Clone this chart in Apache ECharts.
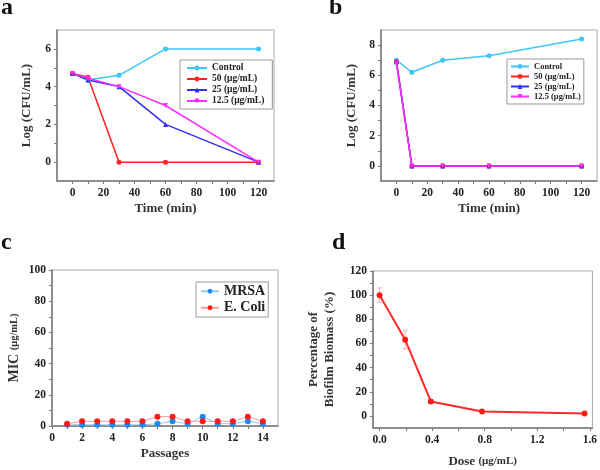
<!DOCTYPE html>
<html><head><meta charset="utf-8">
<script src="https://cdn.jsdelivr.net/npm/echarts@6/dist/echarts.min.js"></script>
<style>html,body{margin:0;padding:0;background:#fff}#c{width:600px;height:470px}</style>
</head><body><div id="c"></div>
<script>
// ---- data ----
var timeA = [0, 10, 30, 60, 120];
var aControl = [4.7, 4.35, 4.6, 6.0, 6.0];
var a50 = [4.7, 4.5, 0, 0, 0];
var a25 = [4.7, 4.35, 4.0, 2.0, 0];
var a12_5 = [4.7, 4.45, 4.0, 3.0, 0];

var timeB = [0, 10, 30, 60, 120];
var bControl = [7.0, 6.2, 7.0, 7.3, 8.4];
var b50 = [6.9, 0, 0, 0, 0];
var b25 = [6.9, 0, 0, 0, 0];
var b12_5 = [6.8, 0, 0, 0, 0];

var passages = [1, 2, 3, 4, 5, 6, 7, 8, 9, 10, 11, 12, 13, 14];
var mrsa = [0.75, 0.75, 0.75, 0.75, 0.75, 0.75, 1.5, 3, 1.5, 6, 1.5, 1.5, 3, 1.5];
var ecoli = [1.5, 3, 3, 3, 3, 3, 6, 6, 3, 3, 3, 3, 6, 3];

var dose = [0, 0.195, 0.39, 0.78, 1.56];
var biomass = [100, 63, 12, 3.7, 2];
var biomassErr = [6, 7.5, 1.5, 1, 0.8];

var seriesNames = ['Control', '50 (\u03bcg/mL)', '25 (\u03bcg/mL)', '12.5 (\u03bcg/mL)'];
var timeTicksLabel = [0, 20, 40, 60, 80, 100, 120];
var timeTicksMinor = [0, 10, 20, 30, 40, 50, 60, 70, 80, 90, 100, 110, 120];
var aYLabels = [0, 2, 4, 6];
var aYTicks = [0, 1, 2, 3, 4, 5, 6];
var bYLabels = [0, 2, 4, 6, 8];
var bYTicks = [0, 1, 2, 3, 4, 5, 6, 7, 8];
var cXLabels = [0, 2, 4, 6, 8, 10, 12, 14];
var cXTicks = [0, 1, 2, 3, 4, 5, 6, 7, 8, 9, 10, 11, 12, 13, 14];
var cYLabels = [0, 20, 40, 60, 80, 100];
var cYTicks = [0, 10, 20, 30, 40, 50, 60, 70, 80, 90, 100];
var dXLabels = [0, 0.4, 0.8, 1.2, 1.6];
var dXTicks = [0, 0.2, 0.4, 0.6, 0.8, 1.0, 1.2, 1.4, 1.6];
var dYLabels = [0, 20, 40, 60, 80, 100, 120];
var dYTicks = [0, 10, 20, 30, 40, 50, 60, 70, 80, 90, 100, 110, 120];

// ---- helpers ----
var FONT = 'Liberation Serif';
function zip(xs, ys) { return xs.map(function (x, i) { return [x, ys[i]]; }); }
var colors = ['#3cc8f5', '#ff2323', '#3030f0', '#ff2cff'];
var symbols = ['circle', 'circle', 'triangle', 'path://M0,0L10,0L5,9Z'];

function xAx(grid, min, max, labels, ticks, name, gap, fmt) {
  return {
    type: 'value', gridIndex: grid, min: min, max: max,
    name: name, nameLocation: 'middle', nameGap: gap,
    nameTextStyle: { fontFamily: FONT, fontWeight: 'bold', fontSize: 13, color: '#333',
      rich: { s: { fontFamily: FONT, fontWeight: 'bold', fontSize: 11, color: '#333' } } },
    axisLine: { show: true, onZero: false, lineStyle: { color: '#777', width: 1.5 } },
    axisTick: { show: true, length: 3, customValues: ticks, lineStyle: { color: '#777' } },
    axisLabel: { customValues: labels, margin: 6, fontFamily: FONT, fontWeight: 'bold', fontSize: 11.5, color: '#222',
      formatter: fmt || function (v) { return String(v); } },
    splitLine: { show: false }
  };
}
function yAx(grid, min, max, labels, ticks, name, gap) {
  return {
    type: 'value', gridIndex: grid, min: min, max: max,
    name: name, nameLocation: 'middle', nameGap: gap, nameRotate: 90,
    nameTextStyle: { fontFamily: FONT, fontWeight: 'bold', fontSize: 13, color: '#333', lineHeight: 16,
      rich: { b: { fontFamily: FONT, fontWeight: 'bold', fontSize: 14, color: '#333' },
              s: { fontFamily: FONT, fontWeight: 'bold', fontSize: 10.5, color: '#333' } } },
    axisLine: { show: true, onZero: false, lineStyle: { color: '#777', width: 1.5 } },
    axisTick: { show: true, length: 3, customValues: ticks, lineStyle: { color: '#777' } },
    axisLabel: { customValues: labels, margin: 6, fontFamily: FONT, fontWeight: 'bold', fontSize: 11.5, color: '#222' },
    splitLine: { show: false }
  };
}
function legend(left, top, data, fs, extra) {
  var o = {
    orient: 'vertical', left: left, top: top, data: data,
    borderColor: '#999', borderWidth: 1, backgroundColor: '#fff',
    padding: [3, 4, 3, 4], itemGap: 1, itemWidth: 20, itemHeight: 6,
    textStyle: { fontFamily: FONT, fontWeight: 'bold', fontSize: fs, color: '#222', lineHeight: fs + 0.5 },
    selectedMode: false
  };
  if (extra) for (var k in extra) o[k] = extra[k];
  return o;
}
function lineSeries(name, xi, yi, xs, ys, idx) {
  return {
    name: name, type: 'line', xAxisIndex: xi, yAxisIndex: yi, data: zip(xs, ys),
    symbol: symbols[idx], symbolSize: 5,
    lineStyle: { color: colors[idx], width: 1.5 }, itemStyle: { color: colors[idx] },
    animation: false
  };
}

var series = [];
var aSets = [aControl, a50, a25, a12_5];
var bSets = [bControl, b50, b25, b12_5];
for (var i = 0; i < 4; i++) series.push(lineSeries(seriesNames[i], 0, 0, timeA, aSets[i], i));
for (var j = 0; j < 4; j++) series.push(lineSeries(seriesNames[j], 1, 1, timeB, bSets[j], j));

series.push({
  name: 'MRSA', type: 'line', xAxisIndex: 2, yAxisIndex: 2, data: zip(passages, mrsa),
  symbol: 'circle', symbolSize: 6, lineStyle: { color: '#8cccf7', width: 1 },
  itemStyle: { color: '#1a8cf0' }, animation: false
});
series.push({
  name: 'E. Coli', type: 'line', xAxisIndex: 2, yAxisIndex: 2, data: zip(passages, ecoli),
  symbol: 'circle', symbolSize: 6, lineStyle: { color: '#f7a0a0', width: 1 },
  itemStyle: { color: '#ff1a1a' }, animation: false
});

series.push({
  type: 'custom', xAxisIndex: 3, yAxisIndex: 3, animation: false, silent: true,
  data: dose.map(function (d, i) { return [d, biomass[i] - biomassErr[i], biomass[i] + biomassErr[i]]; }),
  renderItem: function (params, api) {
    var lo = api.coord([api.value(0), api.value(1)]);
    var hi = api.coord([api.value(0), api.value(2)]);
    var w = 2.5;
    var st = { stroke: '#f8b0b0', lineWidth: 1, fill: null };
    return { type: 'group', children: [
      { type: 'line', shape: { x1: lo[0], y1: lo[1], x2: hi[0], y2: hi[1] }, style: st },
      { type: 'line', shape: { x1: lo[0] - w, y1: lo[1], x2: lo[0] + w, y2: lo[1] }, style: st },
      { type: 'line', shape: { x1: hi[0] - w, y1: hi[1], x2: hi[0] + w, y2: hi[1] }, style: st }
    ] };
  }
});
series.push({
  name: 'Biomass', type: 'line', xAxisIndex: 3, yAxisIndex: 3, data: zip(dose, biomass),
  symbol: 'circle', symbolSize: 6, lineStyle: { color: '#ff2a2a', width: 2 },
  itemStyle: { color: '#ff1a1a' }, animation: false
});

var letterStyle = { fontFamily: FONT, fontWeight: 'bold', fontSize: 24, color: '#111' };
var option = {
  backgroundColor: '#fff',
  animation: false,
  title: [
    { text: 'a', left: 1, top: -4, textStyle: letterStyle, padding: 0 },
    { text: 'b', left: 329, top: -4, textStyle: letterStyle, padding: 0 },
    { text: 'c', left: 1, top: 231, textStyle: letterStyle, padding: 0 },
    { text: 'd', left: 332, top: 231, textStyle: letterStyle, padding: 0 }
  ],
  grid: [
    { left: 57, top: 30, width: 217, height: 151, show: true, borderColor: '#aaa', borderWidth: 1 },
    { left: 381, top: 30, width: 216, height: 151, show: true, borderColor: '#aaa', borderWidth: 1 },
    { left: 52, top: 270, width: 226, height: 156, show: true, borderColor: '#aaa', borderWidth: 1 },
    { left: 373, top: 271, width: 224, height: 157, show: true, borderColor: '#aaa', borderWidth: 1 }
  ],
  xAxis: [
    xAx(0, -10, 130, timeTicksLabel, timeTicksMinor, 'Time (min)', 21),
    xAx(1, -10, 130, timeTicksLabel, timeTicksMinor, 'Time (min)', 21),
    xAx(2, 0, 15, cXLabels, cXTicks, 'Passages', 21),
    xAx(3, -0.05, 1.62, dXLabels, dXTicks, 'Dose {s|(\u03bcg/mL)}', 27, function (v) { return v.toFixed(1); })
  ],
  yAxis: [
    yAx(0, -1, 7, aYLabels, aYTicks, 'Log (CFU/mL)', 22),
    yAx(1, -1, 9, bYLabels, bYTicks, 'Log (CFU/mL)', 21),
    yAx(2, 0, 100, cYLabels, cYTicks, '{b|MIC }{s|(\u03bcg/mL)}', 30),
    yAx(3, -10, 120, dYLabels, dYTicks, 'Percentage of\nBiofilm Biomass (%)', 35)
  ],
  legend: [
    legend(180, 60, seriesNames, 9.5, { padding: [3, 8, 3, 6] }),
    legend(507, 59, seriesNames, 8.5, { padding: [3, 3, 3, 3], itemWidth: 18 }),
    legend(196, 282, ['MRSA', 'E. Coli'], 14, { itemWidth: 18, itemHeight: 6, itemGap: 2, padding: [2, 3, 2, 4] })
  ],
  series: series
};
var chart = echarts.init(document.getElementById('c'), null, { renderer: 'canvas' });
chart.setOption(option);
</script></body></html>
